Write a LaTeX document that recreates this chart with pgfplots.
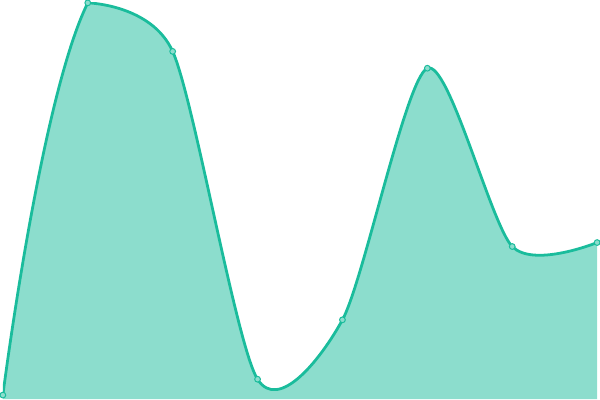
\documentclass[border=0pt]{standalone}
\usepackage{pgfplots}
\pgfplotsset{compat=1.18}
\definecolor{teal1}{HTML}{1ABC9C}
\pgfplotstableread{
x y
0 4
1 400
2 351
}\headpart
\pgfplotstableread{
x y
1 400
2 351
3 20
4 80
5 334
6 154
7 158
}\tailpart
\pgfplotstableread{
x y
0 4
1 400
2 351
3 20
4 80
5 334
6 154
7 158
}\alldata
\begin{document}
\begin{tikzpicture}
\begin{axis}[
    width=600pt, height=400pt, scale only axis,
    hide axis,
    xmin=0, xmax=7, ymin=0, ymax=400,
    clip=true,
]
\begin{scope}
\clip (axis cs:0,0) rectangle (axis cs:1,400);
\addplot[draw=none, fill=teal1!50, smooth, tension=1.0] table {\headpart} \closedcycle;
\addplot[draw=teal1, line width=2.8pt, smooth, tension=1.0] table {\headpart};
\end{scope}
\addplot[draw=none, fill=teal1!50, smooth, tension=0.45] table {\tailpart} \closedcycle;
\addplot[draw=teal1, line width=2.8pt, smooth, tension=0.45] table {\tailpart};
\addplot[only marks, mark=*, mark size=2.9pt,
    mark options={fill=teal1!50, draw=teal1, line width=1pt}] table {\alldata};
\end{axis}
\end{tikzpicture}
\end{document}
